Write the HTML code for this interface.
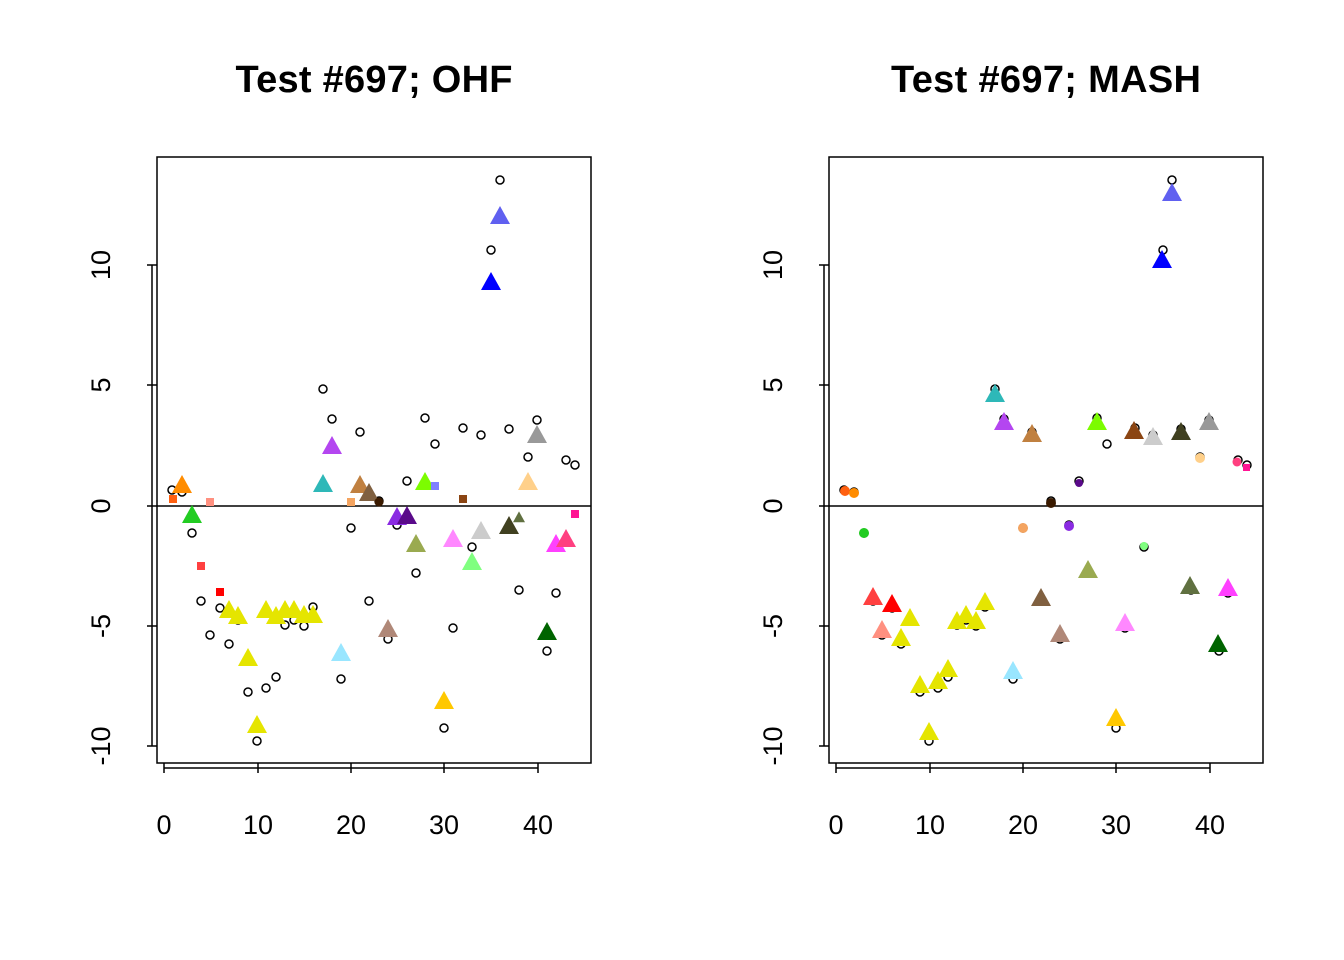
<!DOCTYPE html>
<html><head><meta charset="utf-8"><style>body{margin:0;background:#fff}svg{display:block}</style></head>
<body>
<svg width="1344" height="960" xmlns="http://www.w3.org/2000/svg" font-family="Liberation Sans, sans-serif">
<defs>
<polygon id="t" points="0,-11 10,7 -10,7"/>
<circle id="c" r="4" fill="none" stroke="#000" stroke-width="1.5"/>
</defs>
<rect width="1344" height="960" fill="#fff"/>
<text x="374" y="92" font-size="38" font-weight="bold" text-anchor="middle" textLength="277">Test #697; OHF</text>
<text x="1046" y="92" font-size="38" font-weight="bold" text-anchor="middle" textLength="310">Test #697; MASH</text>

<g id="axes" stroke="#000" stroke-width="1.5" fill="none">
<rect x="157" y="157" width="434" height="606"/>
<line x1="157" y1="506" x2="591" y2="506"/>
<path d="M164,763v10M258,763v10M351,763v10M444,763v10M538,763v10M164,768H538"/>
<path d="M157,265h-10M157,385h-10M157,506h-10M157,626h-10M157,746h-10M152,265V746"/>
<rect x="829" y="157" width="434" height="606"/>
<line x1="829" y1="506" x2="1263" y2="506"/>
<path d="M836,763v10M930,763v10M1023,763v10M1116,763v10M1210,763v10M836,768H1210"/>
<path d="M829,265h-10M829,385h-10M829,506h-10M829,626h-10M829,746h-10M824,265V746"/>
</g>
<g font-size="27" text-anchor="middle">
<text x="164" y="834">0</text><text x="258" y="834">10</text><text x="351" y="834">20</text><text x="444" y="834">30</text><text x="538" y="834">40</text>
<text x="836" y="834">0</text><text x="930" y="834">10</text><text x="1023" y="834">20</text><text x="1116" y="834">30</text><text x="1210" y="834">40</text>
<text transform="translate(110,265) rotate(-90)">10</text><text transform="translate(110,385) rotate(-90)">5</text><text transform="translate(110,506) rotate(-90)">0</text><text transform="translate(110,626) rotate(-90)">-5</text><text transform="translate(110,746) rotate(-90)">-10</text>
<text transform="translate(782,265) rotate(-90)">10</text><text transform="translate(782,385) rotate(-90)">5</text><text transform="translate(782,506) rotate(-90)">0</text><text transform="translate(782,626) rotate(-90)">-5</text><text transform="translate(782,746) rotate(-90)">-10</text>
</g>

<g id="circ">
<use href="#c" x="172" y="490"/><use href="#c" x="182" y="492"/><use href="#c" x="192" y="533"/><use href="#c" x="201" y="601"/><use href="#c" x="210" y="635"/><use href="#c" x="220" y="608"/><use href="#c" x="229" y="644"/><use href="#c" x="238" y="620"/><use href="#c" x="248" y="692"/><use href="#c" x="257" y="741"/><use href="#c" x="266" y="688"/><use href="#c" x="276" y="677"/><use href="#c" x="285" y="625"/><use href="#c" x="294" y="620"/><use href="#c" x="304" y="626"/><use href="#c" x="313" y="607"/><use href="#c" x="323" y="389"/><use href="#c" x="332" y="419"/><use href="#c" x="341" y="679"/><use href="#c" x="351" y="528"/><use href="#c" x="360" y="432"/><use href="#c" x="369" y="601"/><use href="#c" x="379" y="501"/><use href="#c" x="388" y="639"/><use href="#c" x="397" y="525"/><use href="#c" x="407" y="481"/><use href="#c" x="416" y="573"/><use href="#c" x="425" y="418"/><use href="#c" x="435" y="444"/><use href="#c" x="444" y="728"/><use href="#c" x="453" y="628"/><use href="#c" x="463" y="428"/><use href="#c" x="472" y="547"/><use href="#c" x="481" y="435"/><use href="#c" x="491" y="250"/><use href="#c" x="500" y="180"/><use href="#c" x="509" y="429"/><use href="#c" x="519" y="590"/><use href="#c" x="528" y="457"/><use href="#c" x="537" y="420"/><use href="#c" x="547" y="651"/><use href="#c" x="556" y="593"/><use href="#c" x="566" y="460"/><use href="#c" x="575" y="465"/>
</g>
<use href="#circ" x="672"/>

<g>
<use href="#t" x="182" y="486" fill="#FF8C00"/><use href="#t" x="192" y="516" fill="#22CC22"/>
<g fill="#E5E500"><use href="#t" x="229" y="611"/><use href="#t" x="238" y="617"/><use href="#t" x="248" y="659"/><use href="#t" x="257" y="726"/><use href="#t" x="266" y="611"/><use href="#t" x="276" y="617"/><use href="#t" x="285" y="611"/><use href="#t" x="294" y="611"/><use href="#t" x="304" y="616"/><use href="#t" x="313" y="616"/></g>
<use href="#t" x="323" y="485" fill="#2EB8B8"/><use href="#t" x="332" y="447" fill="#B446F0"/><use href="#t" x="341" y="654" fill="#99E6FF"/><use href="#t" x="360" y="486" fill="#C08040"/><use href="#t" x="369" y="494" fill="#806040"/><use href="#t" x="388" y="630" fill="#B08878"/><use href="#t" x="397" y="518" fill="#8A2BE2"/><use href="#t" x="407" y="517" fill="#5A0A8A"/><use href="#t" x="416" y="545" fill="#9AAA50"/><use href="#t" x="425" y="483" fill="#7CFC00"/><use href="#t" x="444" y="702" fill="#FFC800"/><use href="#t" x="453" y="540" fill="#FF88FF"/><use href="#t" x="472" y="563" fill="#80FF80"/><use href="#t" x="481" y="532" fill="#CCCCCC"/><use href="#t" x="491" y="283" fill="#0000FF"/><use href="#t" x="500" y="217" fill="#6060F0"/><use href="#t" x="509" y="527" fill="#404020"/><use href="#t" x="519" y="518" fill="#607040" transform="translate(519,518) scale(0.6) translate(-519,-518)"/><use href="#t" x="537" y="436" fill="#999999"/><use href="#t" x="528" y="483" fill="#FFD08A"/><use href="#t" x="547" y="633" fill="#006400"/><use href="#t" x="556" y="545" fill="#FF40FF"/><use href="#t" x="566" y="540" fill="#FF4080"/>
<rect x="169" y="495" width="8" height="8" fill="#FF6010"/><rect x="197" y="562" width="8" height="8" fill="#FF4040"/><rect x="206" y="498" width="8" height="8" fill="#FF9080"/><rect x="216" y="588" width="8" height="8" fill="#FF0000"/><rect x="347" y="498" width="8" height="8" fill="#F4A460"/><circle cx="379" cy="502" r="4.5" fill="#3A1A00"/><rect x="431" y="482" width="8" height="8" fill="#8080FF"/><rect x="459" y="495" width="8" height="8" fill="#8B4513"/><rect x="571" y="510" width="8" height="8" fill="#FF1493"/>
</g>

<g>
<circle cx="845" cy="491" r="5" fill="#FF6010"/><circle cx="854" cy="493" r="5" fill="#FF8C00"/><circle cx="864" cy="533" r="5" fill="#22CC22"/>
<use href="#t" x="873" y="598" fill="#FF4040"/><use href="#t" x="882" y="631" fill="#FF9080"/><use href="#t" x="892" y="605" fill="#FF0000"/>
<g fill="#E5E500"><use href="#t" x="901" y="639"/><use href="#t" x="910" y="619"/><use href="#t" x="920" y="686"/><use href="#t" x="929" y="733"/><use href="#t" x="938" y="682"/><use href="#t" x="948" y="670"/><use href="#t" x="957" y="622"/><use href="#t" x="966" y="616"/><use href="#t" x="976" y="622"/><use href="#t" x="985" y="603"/></g>
<use href="#t" x="995" y="395" fill="#2EB8B8"/><use href="#t" x="1004" y="423" fill="#B446F0"/><use href="#t" x="1013" y="672" fill="#99E6FF"/><circle cx="1023" cy="528" r="5" fill="#F4A460"/><use href="#t" x="1032" y="435" fill="#C08040"/><use href="#t" x="1041" y="599" fill="#806040"/><circle cx="1051" cy="503" r="5" fill="#3A1A00"/><use href="#t" x="1060" y="635" fill="#B08878"/><circle cx="1069" cy="526" r="5" fill="#8A2BE2"/><circle cx="1079" cy="483" r="4" fill="#5A0A8A"/><use href="#t" x="1088" y="571" fill="#9AAA50"/><use href="#t" x="1097" y="423" fill="#7CFC00"/><use href="#t" x="1116" y="719" fill="#FFC800"/><use href="#t" x="1125" y="624" fill="#FF88FF"/><use href="#t" x="1134" y="432" fill="#8B4513"/><circle cx="1144" cy="546" r="4" fill="#80FF80"/><use href="#t" x="1153" y="438" fill="#CCCCCC"/><use href="#t" x="1162" y="261" fill="#0000FF"/><use href="#t" x="1172" y="194" fill="#6060F0"/><use href="#t" x="1181" y="433" fill="#404020"/><use href="#t" x="1190" y="587" fill="#607040"/><circle cx="1200" cy="458" r="5" fill="#FFD08A"/><use href="#t" x="1209" y="423" fill="#999999"/><use href="#t" x="1218" y="645" fill="#006400"/><use href="#t" x="1228" y="589" fill="#FF40FF"/><circle cx="1237" cy="462" r="4.5" fill="#FF4080"/><rect x="1243" y="464" width="7" height="7" fill="#FF1493"/>
</g>
</svg>
</body></html>
